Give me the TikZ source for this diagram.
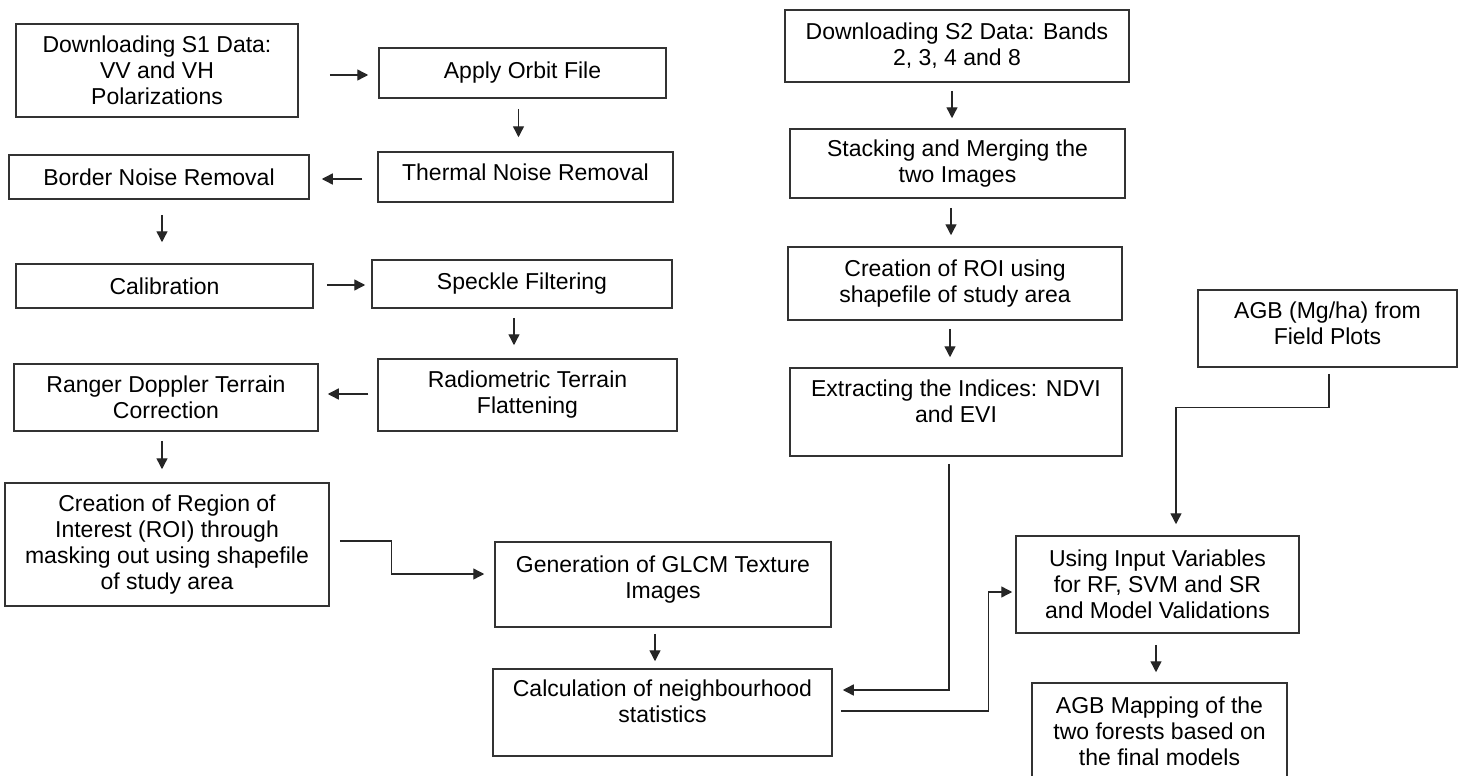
\documentclass[tikz,border=0pt]{standalone}
\usepackage{fontspec}
\setmainfont{Liberation Sans}
\usetikzlibrary{arrows.meta}

\begin{document}
\begin{tikzpicture}[x=0.5pt, y=-0.5pt, thick,
    box/.style = {draw=black!80, line width=0.75pt, align=center, inner sep=0pt, font=\fontsize{11.5}{13}\selectfont},
    arr/.style = {-{Triangle[length=5.5pt,width=5.5pt]}, line width=0.7pt, draw=black!85}]
            \clip (0,0) rectangle (1464,776);
            % S1 chain
            \node[box, minimum width=141pt, minimum height=46.5pt] (s1) at (157,70.5) {Downloading S1 Data:\\ VV and VH\\ Polarizations};
            \node[box, minimum width=143.5pt, minimum height=25pt] (orbit) at (522.5,73) {Apply Orbit File};
            \node[box, minimum width=147.5pt, minimum height=25pt] (thermal) at (525.5,177) {Thermal Noise Removal\\[-8pt]\mbox{}};
            \node[box, minimum width=150pt, minimum height=22pt] (border) at (159,177) {Border Noise Removal};
            \node[box, minimum width=148.5pt, minimum height=22pt] (calib) at (164.5,286) {Calibration};
            \node[box, minimum width=150pt, minimum height=24pt] (speckle) at (522,284) {Speckle Filtering};
            \node[box, minimum width=149.5pt, minimum height=36pt] (radio) at (527.5,395) {Radiometric Terrain\\ Flattening};
            \node[box, minimum width=152pt, minimum height=33.5pt] (ranger) at (166,397.5) {Ranger Doppler Terrain\\ Correction};
            \node[box, minimum width=162pt, minimum height=61.5pt] (roi1) at (167,544.5) {Creation of Region of\\ Interest (ROI) through\\ masking out using shapefile\\ of study area};
            \node[box, minimum width=168pt, minimum height=42.5pt] (glcm) at (663,584.5) {Generation of GLCM Texture\\ Images\\[-5.5pt]\mbox{}};
            \node[box, minimum width=169.5pt, minimum height=43.5pt] (calc) at (662.5,712.5) {Calculation of neighbourhood\\ statistics\\[-1.5pt]\mbox{}};
            % S2 chain
            \node[box, minimum width=172pt, minimum height=36pt] (s2) at (957,46) {Downloading S2 Data: Bands\\ 2, 3, 4 and 8};
            \node[box, minimum width=167.5pt, minimum height=34.5pt] (stack) at (957.5,163.5) {Stacking and Merging the\\ two Images};
            \node[box, minimum width=167pt, minimum height=36.5pt] (roi2) at (955,283.5) {Creation of ROI using\\ shapefile of study area};
            \node[box, minimum width=166pt, minimum height=44pt] (extract) at (956,412) {Extracting the Indices: NDVI\\ and EVI\\[-2.5pt]\mbox{}};
            \node[box, minimum width=129.5pt, minimum height=38.5pt] (field) at (1327.5,328.5) {AGB (Mg/ha) from\\ Field Plots\\[-8pt]\mbox{}};
            \node[box, minimum width=141.5pt, minimum height=48.5pt] (using) at (1157.5,584.5) {Using Input Variables\\ for RF, SVM and SR\\ and Model Validations};
            \node[box, minimum width=127.5pt, minimum height=48.5pt] (mapping) at (1159.5,731.5) {AGB Mapping of the\\ two forests based on\\ the final models};

            \draw[arr, shorten <=15.5pt, shorten >=5pt] ([yshift=-2.25pt]s1.east) -- ([yshift=-2.25pt]s1.east -| orbit.west);
            \draw[arr, shorten <=5pt, shorten >=7pt] ([xshift=-2pt]orbit.south) -- ([xshift=-2pt]orbit.south |- thermal.north);
            \draw[arr, shorten <=7.5pt, shorten >=6pt] ([yshift=-1pt]thermal.west) -- ([yshift=-1pt]thermal.west -| border.east);
            \draw[arr, shorten <=7.5pt, shorten >=10.5pt] ([xshift=1.5pt]border.south) -- ([xshift=1.5pt]border.south |- calib.north);
            \draw[arr, shorten <=6.5pt, shorten >=3pt] ([yshift=0.5pt]calib.east) -- ([yshift=0.5pt]calib.east -| speckle.west);
            \draw[arr, shorten <=4.5pt, shorten >=6.5pt] ([xshift=-4pt]speckle.south) -- ([xshift=-4pt]speckle.south |- radio.north);
            \draw[arr, shorten <=4.5pt, shorten >=4.5pt] ([yshift=0.5pt]radio.west) -- ([yshift=0.5pt]radio.west -| ranger.east);
            \draw[arr, shorten <=4.5pt, shorten >=6.5pt] ([xshift=-2pt]ranger.south) -- ([xshift=-2pt]ranger.south |- roi1.north);
            \draw[arr, shorten <=5pt, shorten >=5pt] ([yshift=1.75pt]roi1.east) -- ++(62,0) |- ([yshift=5.25pt]glcm.west);
            \draw[arr, shorten <=3pt, shorten >=3.5pt] ([xshift=-4pt]glcm.south) -- ([xshift=-4pt]glcm.south |- calc.north);

            \draw[arr, shorten <=4pt, shorten >=5pt] ([xshift=-2.5pt]s2.south) -- ([xshift=-2.5pt]s2.south |- stack.north);
            \draw[arr, shorten <=4.5pt, shorten >=5.5pt] ([xshift=-3.25pt]stack.south) -- ([xshift=-3.25pt]stack.south |- roi2.north);
            \draw[arr, shorten <=4pt, shorten >=5pt] ([xshift=-2.5pt]roi2.south) -- ([xshift=-2.5pt]roi2.south |- extract.north);
            \draw[arr, shorten <=3.5pt, shorten >=5pt] ([xshift=-3.5pt]extract.south) |- ([yshift=11.25pt]calc.east);
            \draw[arr, shorten <=4pt, shorten >=1.5pt] ([yshift=0.75pt]calc.east) -- ++(156,0) |- ([yshift=-3.75pt]using.west);
            \draw[arr, shorten <=3pt, shorten >=5.5pt] ([xshift=0.75pt]field.south) -- ++(0,40) -| ([xshift=9.25pt]using.north);
            \draw[arr, shorten <=5.5pt, shorten >=5pt] ([xshift=-0.75pt]using.south) -- ([xshift=-0.75pt]using.south |- mapping.north);
        \end{tikzpicture}
\end{document}
